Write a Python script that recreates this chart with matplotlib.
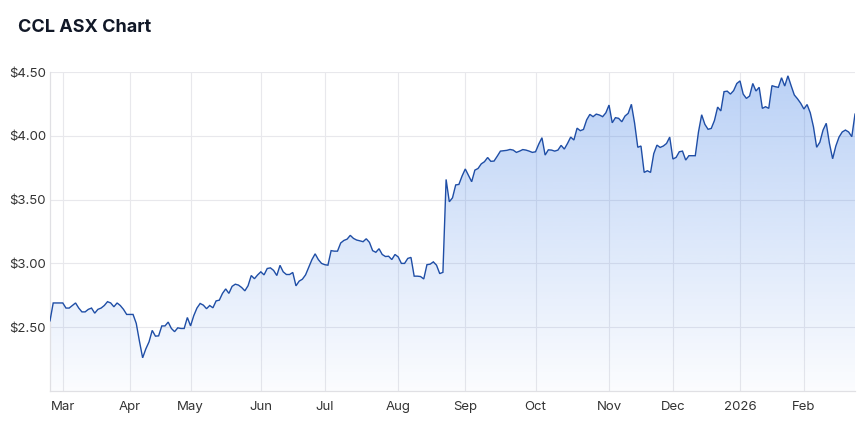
import numpy as np
import pandas as pd
import matplotlib
matplotlib.use("Agg")
import matplotlib.pyplot as plt
from matplotlib.colors import to_rgb

# ---- data ----
title = "CCL ASX Chart"
start_date = "2025-02-25"
end_date = "2026-02-24"
holidays = ["2025-04-18", "2025-04-21", "2025-04-25", "2025-06-09",
            "2025-12-25", "2025-12-26", "2026-01-01", "2026-01-26"]
prices = [
    2.55, 2.69, 2.69, 2.69, 2.69, 2.65, 2.65, 2.67, 2.69, 2.65,
    2.62, 2.62, 2.64, 2.65, 2.61, 2.64, 2.65, 2.67, 2.70, 2.69,
    2.66, 2.69, 2.67, 2.64, 2.60, 2.60, 2.60, 2.53, 2.39, 2.26,
    2.33, 2.385, 2.475, 2.43, 2.432, 2.51, 2.51, 2.54, 2.49, 2.465,
    2.495, 2.49, 2.49, 2.576, 2.51, 2.59, 2.65, 2.686, 2.673, 2.645,
    2.67, 2.652, 2.706, 2.712, 2.765, 2.80, 2.765, 2.82, 2.837, 2.83,
    2.811, 2.785, 2.825, 2.905, 2.88, 2.91, 2.934, 2.91, 2.96, 2.965,
    2.945, 2.905, 2.985, 2.934, 2.913, 2.913, 2.929, 2.824, 2.861, 2.876,
    2.91, 2.97, 3.03, 3.075, 3.03, 3.00, 2.99, 2.986, 3.10, 3.096,
    3.096, 3.16, 3.18, 3.19, 3.22, 3.196, 3.183, 3.177, 3.17, 3.193,
    3.165, 3.10, 3.087, 3.115, 3.07, 3.054, 3.056, 3.03, 3.07, 3.051,
    3.00, 3.00, 3.039, 3.047, 2.90, 2.90, 2.897, 2.878, 2.99, 2.994,
    3.012, 2.986, 2.92, 2.93, 3.658, 3.483, 3.514, 3.615, 3.619, 3.685,
    3.74, 3.69, 3.64, 3.731, 3.744, 3.78, 3.797, 3.83, 3.80, 3.802,
    3.84, 3.88, 3.883, 3.886, 3.893, 3.888, 3.87, 3.88, 3.892, 3.888,
    3.88, 3.87, 3.875, 3.935, 3.985, 3.849, 3.89, 3.888, 3.88, 3.888,
    3.925, 3.896, 3.94, 3.99, 3.967, 4.06, 4.04, 4.05, 4.125, 4.168,
    4.15, 4.17, 4.163, 4.15, 4.18, 4.241, 4.102, 4.142, 4.137, 4.11,
    4.155, 4.176, 4.247, 4.10, 3.91, 3.92, 3.713, 3.726, 3.713, 3.86,
    3.927, 3.909, 3.92, 3.94, 3.99, 3.818, 3.831, 3.875, 3.88, 3.81,
    3.844, 3.844, 3.844, 4.03, 4.165, 4.09, 4.051, 4.058, 4.12, 4.225,
    4.195, 4.346, 4.35, 4.327, 4.354, 4.41, 4.43, 4.327, 4.293, 4.312,
    4.41, 4.351, 4.38, 4.215, 4.228, 4.215, 4.393, 4.385, 4.38, 4.455,
    4.39, 4.47, 4.393, 4.32, 4.29, 4.255, 4.21, 4.245, 4.18, 4.07,
    3.91, 3.95, 4.045, 4.098, 3.94, 3.82, 3.92, 3.99, 4.03, 4.045,
    4.03, 3.993, 4.17,
]
y_ticks = [2.5, 3.0, 3.5, 4.0, 4.5]
y_min, y_max = 2.0, 4.5

# ---- trading-day axis ----
dates = pd.bdate_range(start_date, end_date)
dates = dates[~dates.isin(pd.to_datetime(holidays))]
n = min(len(dates), len(prices))
dates = dates[:n]
vals = np.array(prices[:n])
x = np.arange(n)

tick_pos, tick_lab = [], []
months = dates.to_period("M")
for i in range(1, n):
    if months[i] != months[i - 1]:
        tick_pos.append(i)
        d = dates[i]
        tick_lab.append(str(d.year) if d.month == 1 else d.strftime("%b"))

# ---- figure ----
plt.rcParams["font.family"] = ["Inter", "DejaVu Sans"]
fig = plt.figure(figsize=(8.58, 4.24), dpi=100)
ax = fig.add_axes([50 / 858, 1 - 391 / 424, 805 / 858, (391 - 72) / 424])

line_col = "#1f4ea6"
fill_rgb = to_rgb("#3f7fe6")

# gradient fill under the line
poly = ax.fill_between(x, vals, y_min, facecolor="none", edgecolor="none")
grad = np.zeros((256, 1, 4))
grad[:, 0, :3] = fill_rgb
grad[:, 0, 3] = np.linspace(0.36, 0.02, 256)
im = ax.imshow(grad, extent=[0, n - 1, y_min, y_max], aspect="auto",
               origin="upper", zorder=1, interpolation="bicubic")
im.set_clip_path(poly.get_paths()[0], transform=ax.transData)

ax.plot(x, vals, color=line_col, lw=1.0, zorder=3, solid_joinstyle="miter")

ax.set_xlim(0, n - 1)
ax.set_ylim(y_min, y_max)
ax.set_yticks(y_ticks)
ax.set_yticklabels([f"${v:.2f}" for v in y_ticks])
ax.set_xticks(tick_pos)
ax.set_xticklabels(tick_lab)
ax.tick_params(axis="both", length=0, labelsize=9.5, colors="#333333")
ax.tick_params(axis="y", pad=3)
ax.tick_params(axis="x", pad=7)
ax.grid(True, color="#e8e8ec", lw=0.8, zorder=0)
ax.set_axisbelow(True)
for s in ["top", "right"]:
    ax.spines[s].set_visible(False)
for s in ["left", "bottom"]:
    ax.spines[s].set_color("#e0e0e4")
    ax.spines[s].set_linewidth(0.9)

fig.text(18 / 858, 1 - 27 / 424, title, fontsize=13, fontweight="bold",
         color="#111827", va="center", ha="left")

fig.savefig("out.png", dpi=100)
